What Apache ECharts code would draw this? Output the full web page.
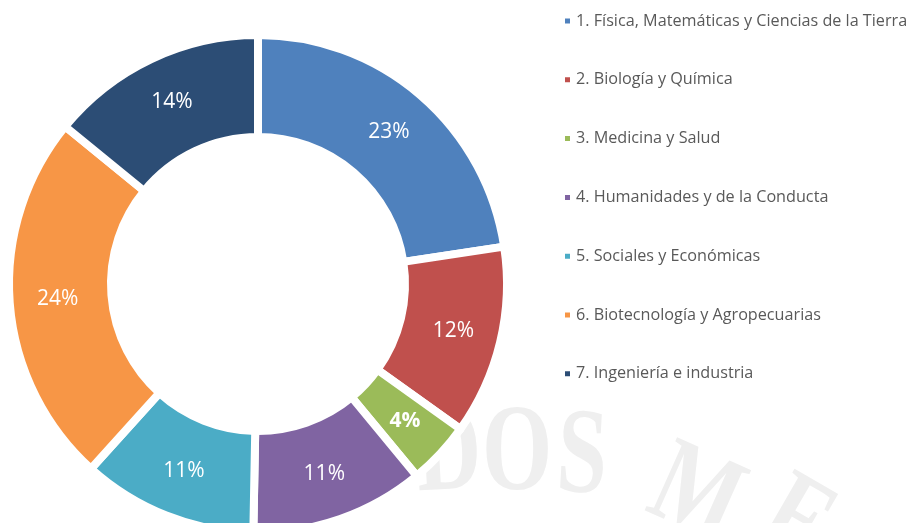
<!DOCTYPE html>
<html>
<head>
<meta charset="utf-8">
<script src="https://cdn.jsdelivr.net/npm/echarts@6/dist/echarts.min.js"></script>
<style>
  html, body { margin: 0; padding: 0; background: #fff; }
  #chart { width: 911px; height: 523px; }
</style>
</head>
<body>
<div id="chart"></div>
<script>
const categories = [
    "1. Física, Matemáticas y Ciencias de la Tierra",
    "2. Biología y Química",
    "3. Medicina y Salud",
    "4. Humanidades y de la Conducta",
    "5. Sociales y Económicas",
    "6. Biotecnología y Agropecuarias",
    "7. Ingeniería e industria",
];
// shares in percent (labels show them rounded)
const shares = [22.6, 12.3, 4.1, 11.3, 11.4, 24.2, 14.1];
const colors = ["#4F81BD", "#C0504D", "#9BBB59", "#8064A2", "#4BACC6", "#F79646", "#2C4D75"];

const FONT = "'Open Sans', 'Liberation Sans', sans-serif";

// faint watermark letters behind the donut
function watermark() {
    const letters = [
        { t: "A", x: 378, y: 452, r: 6 },
        { t: "D", x: 449, y: 457, r: 3 },
        { t: "O", x: 517, y: 457, r: 0 },
        { t: "S", x: 582, y: 460, r: -3 },
        { t: "M", x: 695, y: 498, r: -24 },
        { t: "E", x: 795, y: 525, r: -30 },
    ];
    return letters.map((l) => ({
        type: "text",
        x: l.x,
        y: l.y,
        rotation: (l.r * Math.PI) / 180,
        scaleX: 0.74,
        z: -10,
        silent: true,
        style: {
            text: l.t,
            fill: "#efefef",
            align: "center",
            verticalAlign: "middle",
            font: "bold 122px 'Liberation Serif', 'DejaVu Serif', serif",
        },
    }));
}

const chart = echarts.init(document.getElementById("chart"), null, { renderer: "canvas" });

chart.setOption({
    backgroundColor: "#fff",
    animation: false,
    color: colors,
    graphic: watermark(),
    legend: {
        orient: "vertical",
        left: 558,
        top: 7,
        icon: "rect",
        itemWidth: 7,
        itemHeight: 7,
        itemGap: 40.8,
        textStyle: { color: "#595959", fontSize: 16.2, fontFamily: FONT, lineHeight: 18 },
        data: categories,
    },
    series: [
        {
            type: "pie",
            center: [258, 284],
            radius: [147, 249],
            startAngle: 90,
            clockwise: true,
            z: 5,
            itemStyle: { borderColor: "#fff", borderWidth: 8 },
            label: {
                show: true,
                position: "inside",
                color: "#fff",
                fontSize: 21,
                fontFamily: FONT,
                formatter: (p) => Math.round(p.value) + "%",
            },
            labelLine: { show: false },
            emphasis: { disabled: true },
            data: categories.map((name, i) => ({
                name,
                value: shares[i],
                label: Math.round(shares[i]) === 4 ? { fontWeight: "bold" } : undefined,
            })),
        },
    ],
});
</script>
</body>
</html>
